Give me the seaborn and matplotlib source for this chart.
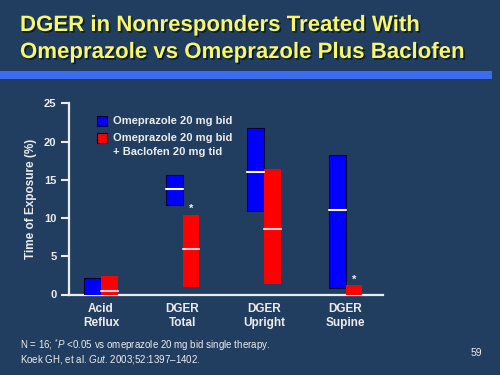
import matplotlib
matplotlib.use("Agg")
import matplotlib.pyplot as plt
import matplotlib.patheffects as pe
from matplotlib.patches import Rectangle
import seaborn as sns
import numpy as np

# data (min / median / max of time of exposure, %)
categories = ["Acid\nReflux", "DGER\nTotal", "DGER\nUpright", "DGER\nSupine"]
omep_low = [0.0, 11.7, 10.9, 0.9]
omep_med = [np.nan, 13.8, 16.0, 11.1]
omep_high = [2.2, 15.6, 21.8, 18.3]
bacl_low = [0.0, 0.95, 1.4, 0.0]
bacl_med = [0.4, 6.0, 8.5, np.nan]
bacl_high = [2.4, 10.4, 16.4, 1.2]
signif_y = [np.nan, 11.2, np.nan, 1.9]
yticks = [0, 5, 10, 15, 20, 25]

BG = "#213e60"
TXT = "#ececec"

sns.set_style("dark", {"axes.facecolor": BG, "figure.facecolor": BG})
plt.rcParams["font.family"] = ["Liberation Sans", "DejaVu Sans"]
plt.rcParams["mathtext.fontset"] = "custom"
plt.rcParams["mathtext.rm"] = "Liberation Sans"
plt.rcParams["mathtext.it"] = "Liberation Sans:italic"

W, H = 500, 375
fig = plt.figure(figsize=(5, 3.75), dpi=100)
fig.patch.set_facecolor(BG)


def fx(x):
    return x / W


def fy(y):
    return 1 - y / H


# title + blue rule
title_fx = [pe.withSimplePatchShadow(offset=(1.2, -1.2), shadow_rgbFace="#0a1526", alpha=0.9)]
fig.text(fx(20), fy(31), "DGER in Nonresponders Treated With", color="#f7f76a",
         fontsize=16, fontweight="bold", va="baseline", path_effects=title_fx)
fig.text(fx(20), fy(58), "Omeprazole vs Omeprazole Plus Baclofen", color="#f7f76a",
         fontsize=16, fontweight="bold", va="baseline", path_effects=title_fx)
fig.patches.append(Rectangle((0, fy(79)), fx(492), 8 / H, transform=fig.transFigure,
                             facecolor="#3a6cf0", edgecolor="none"))

# axes
ax = fig.add_axes([fx(69), fy(294.5), fx(383) - fx(69), (294.5 - 103.3) / H])
ax.set_facecolor(BG)
x = np.arange(len(categories))
w = 0.205

omep_h = np.array(omep_high) - np.array(omep_low)
bacl_h = np.array(bacl_high) - np.array(bacl_low)
ax.bar(x - w / 2, omep_h, w, bottom=omep_low, color="#0000ff", edgecolor="#000033",
       linewidth=0.8, zorder=3)
ax.bar(x + w / 2, bacl_h, w, bottom=bacl_low, color="#ff0000", edgecolor="none", zorder=3)

for i in range(len(categories)):
    if not np.isnan(omep_med[i]):
        ax.plot([x[i] - w, x[i]], [omep_med[i]] * 2, color="white", lw=1.5, zorder=4)
    if not np.isnan(bacl_med[i]):
        ax.plot([x[i], x[i] + w], [bacl_med[i]] * 2, color="#ffd0d0", lw=1.5, zorder=4)
    if not np.isnan(signif_y[i]):
        ax.text(x[i] + w / 2, signif_y[i], "*", color=TXT, fontsize=8,
                fontweight="bold", ha="center", va="center")

ax.set_xlim(-0.393, 3.46)
ax.set_ylim(0, 25)
ax.set_yticks(yticks)
ax.set_yticklabels([str(t) for t in yticks], color=TXT, fontsize=8, fontweight="bold")
ax.set_xticks(x)
ax.set_xticklabels(categories, color=TXT, fontsize=8.5, fontweight="bold", linespacing=1.25)
ax.tick_params(axis="y", direction="out", length=6, width=1.5, color=TXT, pad=3, left=True)
ax.tick_params(axis="x", length=0, pad=6)
ax.set_ylabel("Time of Exposure (%)", color=TXT, fontsize=8.5, fontweight="bold", labelpad=5)
ax.grid(False)
sns.despine(ax=ax)
for side in ["left", "bottom"]:
    ax.spines[side].set_color(TXT)
    ax.spines[side].set_linewidth(1.6)

# legend drawn by hand
for (sy, col) in [(116, "#0000ff"), (133, "#ff0000")]:
    fig.patches.append(Rectangle((fx(97), fy(sy + 10)), 10 / W, 10 / H,
                                 transform=fig.transFigure, facecolor=col,
                                 edgecolor="#000033", linewidth=0.8))
fig.text(fx(113), fy(121), "Omeprazole 20 mg bid", color=TXT, fontsize=8,
         fontweight="bold", va="center")
fig.text(fx(113), fy(138), "Omeprazole 20 mg bid", color=TXT, fontsize=8,
         fontweight="bold", va="center")
fig.text(fx(113), fy(152), "+ Baclofen 20 mg tid", color=TXT, fontsize=8,
         fontweight="bold", va="center")

# footnotes
fig.text(fx(20), fy(349), r"N = 16; $^{*}\mathit{P}$ <0.05 vs omeprazole 20 mg bid single therapy.",
         color=TXT, fontsize=7, va="baseline")
fig.text(fx(20), fy(362), r"Koek GH, et al. $\mathit{Gut}$. 2003;52:1397–1402.",
         color=TXT, fontsize=7, va="baseline")
fig.text(fx(471), fy(356), "59", color=TXT, fontsize=7.5, va="baseline")

fig.savefig("out.png", dpi=100, facecolor=BG)
